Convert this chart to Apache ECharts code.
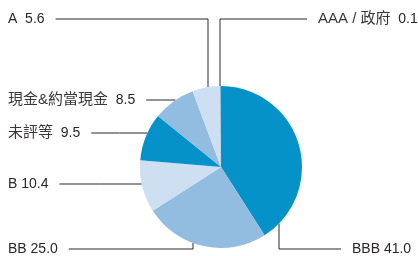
<!DOCTYPE html>
<html>
<head>
<meta charset="utf-8">
<style>
  html, body { margin: 0; padding: 0; background: #fff; }
  #chart { width: 418px; height: 256px; }
</style>
<script src="https://cdn.jsdelivr.net/npm/echarts@6/dist/echarts.min.js"></script>
</head>
<body>
<div id="chart"></div>
<script>
// rating buckets, clockwise from 12 o'clock
const names = ['BBB', 'BB', 'B', '未評等', '現金&約當現金', 'A', 'AAA / 政府'];
const values = [41.0, 25.0, 10.4, 9.5, 8.5, 5.6, 0.1];
const colors = ['#0592c8', '#93bde0', '#cddff0', '#0592c8', '#93bde0', '#cddff0', '#0592c8'];

// pie geometry
const cx = 221, cy = 167, r = 81;

// where each label sits: side, text x, text y, x of the vertical drop (null = straight line)
const labelSpots = [
  { side: 'right', x: 352, y: 249, drop: 279 },
  { side: 'left', x: 8, y: 249, drop: 193 },
  { side: 'left', x: 8, y: 184, drop: null },
  { side: 'left', x: 8, y: 133, drop: null },
  { side: 'left', x: 8, y: 100, drop: null },
  { side: 'left', x: 8, y: 19, drop: 208 },
  { side: 'right', x: 318, y: 19, drop: 220 }
];

function edgePoint (spot) {
  if (spot.drop === null) {
    let dx = Math.sqrt(r * r - (spot.y - cy) * (spot.y - cy));
    return [cx - dx, spot.y];
  }
  let dy = Math.sqrt(r * r - (spot.drop - cx) * (spot.drop - cx));
  return [spot.drop, spot.y < cy ? cy - dy : cy + dy];
}

function labelText (n, v) {
  // plain latin grades take one space, the rest two
  let sep = /^B+$/.test(n) ? ' ' : '  ';
  return /[^\x00-\x7f]/.test(n)
    ? '{cjk|' + n + '}' + sep + v.toFixed(1)
    : n + sep + v.toFixed(1);
}

const chart = echarts.init(document.getElementById('chart'));

chart.setOption({
  animation: false,
  series: [{
    type: 'pie',
    center: [cx, cy],
    radius: r,
    startAngle: 90,
    clockwise: true,
    data: names.map((n, i) => ({ name: n, value: values[i], itemStyle: { color: colors[i] } })),
    label: {
      show: true,
      position: 'outside',
      overflow: 'none',
      width: 200,
      fontFamily: '"Liberation Sans", Arial, "Noto Sans CJK TC"',
      fontSize: 14,
      color: '#2a2626',
      formatter: p => labelText(p.name, p.value),
      rich: {
        cjk: {
          fontFamily: '"Liberation Sans", Arial, "Noto Sans CJK TC"',
          fontSize: 15,
          color: '#3a3636'
        }
      }
    },
    labelLine: {
      show: true,
      lineStyle: { color: '#2a2626', width: 1 }
    },
    labelLayout: params => {
      let spot = labelSpots[params.dataIndex];
      let w = params.labelRect.width;
      let lineEndX = spot.side === 'left' ? spot.x + w + 11 : spot.x - 11;
      let start = edgePoint(spot);
      let pts = spot.drop === null
        ? [start, [(start[0] + lineEndX) / 2, spot.y], [lineEndX, spot.y]]
        : [start, [spot.drop, spot.y], [lineEndX, spot.y]];
      return {
        x: spot.x,
        y: spot.y,
        align: 'left',
        verticalAlign: 'middle',
        labelLinePoints: pts
      };
    }
  }]
});
</script>
</body>
</html>
